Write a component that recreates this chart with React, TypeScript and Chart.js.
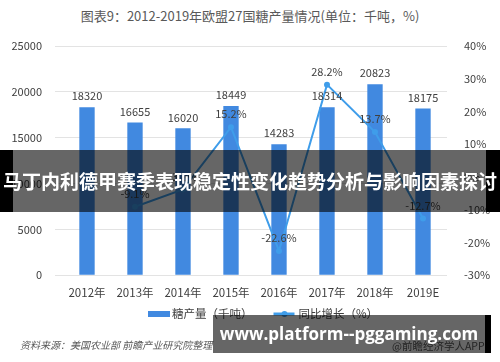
import React, { useEffect, useRef } from "react";
import { Chart, registerables } from "chart.js";

Chart.register(...registerables);

const categories = ["2012年", "2013年", "2014年", "2015年", "2016年", "2017年", "2018年", "2019E"];
const production = [18320, 16655, 16020, 18449, 14283, 18314, 20823, 18175];
const growth: (number | null)[] = [null, -9.1, -3.8, 15.2, -22.6, 28.2, 13.7, -12.7];
const leftTicks = [0, 5000, 10000, 15000, 20000, 25000];
const rightTicks = [-30, -20, -10, 0, 10, 20, 30, 40];

const FONT = "'Noto Sans CJK SC', 'Noto Sans', sans-serif";
const BAR_COLOR = "#4189e0";
const LINE_COLOR = "#3f9dea";

const labelsPlugin = {
  id: "valueLabels",
  afterDatasetsDraw(chart: any) {
    const ctx = chart.ctx;
    ctx.save();
    ctx.font = `11px ${FONT}`;
    ctx.fillStyle = "#404040";
    ctx.textAlign = "center";
    ctx.textBaseline = "middle";
    chart.data.datasets.forEach((ds: any, di: number) => {
      const meta = chart.getDatasetMeta(di);
      meta.data.forEach((el: any, i: number) => {
        const v = ds.data[i];
        if (v === null || v === undefined) return;
        if (ds.type === "bar") {
          ctx.fillText(String(v), el.x, el.y - 11);
        } else {
          ctx.fillText(v.toFixed(1) + "%", el.x, el.y - 13);
        }
      });
    });
    ctx.restore();
  },
};

const legendPlugin = {
  id: "customLegend",
  afterDraw(chart: any) {
    const ctx = chart.ctx;
    const y = 314;
    ctx.save();
    ctx.font = `11.5px ${FONT}`;
    ctx.textBaseline = "middle";
    let x = 148;
    chart.data.datasets.forEach((ds: any) => {
      if (ds.type === "bar") {
        ctx.fillStyle = ds.backgroundColor;
        ctx.fillRect(x, y - 3, 22, 6);
        x += 24;
      } else {
        ctx.strokeStyle = ds.borderColor;
        ctx.lineWidth = 3;
        ctx.beginPath();
        ctx.moveTo(x, y);
        ctx.lineTo(x + 21, y);
        ctx.stroke();
        ctx.fillStyle = ds.borderColor;
        ctx.beginPath();
        ctx.arc(x + 11, y, 3, 0, Math.PI * 2);
        ctx.fill();
        x += 25;
      }
      ctx.fillStyle = "#404040";
      ctx.textAlign = "left";
      ctx.fillText(ds.label, x, y);
      x += ctx.measureText(ds.label).width + 21;
    });
    ctx.restore();
  },
};

export default function App() {
  const ref = useRef<HTMLCanvasElement | null>(null);

  useEffect(() => {
    document.body.style.margin = "0";
    if (!ref.current) return;
    const chart = new Chart(ref.current, {
      type: "bar",
      data: {
        labels: categories,
        datasets: [
          {
            type: "bar",
            label: "糖产量（千吨）",
            data: production,
            yAxisID: "y",
            backgroundColor: BAR_COLOR,
            barPercentage: 0.32,
            categoryPercentage: 1,
            order: 2,
          } as any,
          {
            type: "line",
            label: "同比增长（%）",
            data: growth,
            yAxisID: "y1",
            borderColor: LINE_COLOR,
            backgroundColor: LINE_COLOR,
            borderWidth: 2,
            pointRadius: 3,
            pointBackgroundColor: LINE_COLOR,
            pointBorderWidth: 0,
            tension: 0,
            order: 1,
          } as any,
        ],
      },
      options: {
        animation: false,
        responsive: false,
        maintainAspectRatio: false,
        layout: { padding: { top: 46, bottom: 59, left: 0, right: 0 } },
        plugins: { legend: { display: false }, title: { display: false }, tooltip: { enabled: false } },
        scales: {
          x: {
            grid: { display: false },
            border: { display: false },
            ticks: { color: "#404040", font: { family: FONT, size: 11.5 }, padding: 3 },
          },
          y: {
            position: "left",
            min: leftTicks[0],
            max: leftTicks[leftTicks.length - 1],
            afterBuildTicks: (s: any) => { s.ticks = leftTicks.map((v) => ({ value: v })); },
            grid: { color: "#e3e3e3", lineWidth: 1 },
            border: { display: false },
            ticks: { color: "#404040", font: { family: FONT, size: 11 }, padding: 13, callback: (v: any) => String(v) },
            afterFit: (s: any) => { s.width = 63; },
          },
          y1: {
            position: "right",
            min: rightTicks[0],
            max: rightTicks[rightTicks.length - 1],
            afterBuildTicks: (s: any) => { s.ticks = rightTicks.map((v) => ({ value: v })); },
            grid: { display: false },
            border: { display: false },
            ticks: { color: "#404040", font: { family: FONT, size: 11 }, padding: 9, callback: (v: any) => v + "%" },
            afterFit: (s: any) => { s.width = 53; },
          },
        },
      },
      plugins: [labelsPlugin, legendPlugin],
    } as any);
    return () => chart.destroy();
  }, []);

  return (
    <div style={{ position: "relative", width: 500, height: 362, background: "#fff", overflow: "hidden", fontFamily: FONT }}>
      <div style={{ position: "absolute", top: 6, left: 0, width: 500, textAlign: "center", fontSize: 13, color: "#595959", lineHeight: "20px" }}>
        图表9：2012-2019年欧盟27国糖产量情况(单位：千吨，%)
      </div>
      <canvas ref={ref} width={500} height={362} style={{ position: "absolute", left: 0, top: 0, width: 500, height: 362 }} />
      <div style={{ position: "absolute", left: 20, top: 337, fontSize: 10, fontStyle: "italic", color: "#595959", lineHeight: "16px" }}>
        资料来源：美国农业部 前瞻产业研究院整理
      </div>
      <div style={{ position: "absolute", left: 392, top: 338, fontSize: 10.5, color: "#595959", lineHeight: "16px" }}>
        @前瞻经济学人APP
      </div>
      {/* middle banner */}
      <div style={{ position: "absolute", left: 0, top: 150, width: 500, height: 62, background: "rgba(0,0,0,0.6)" }} />
      <div style={{ position: "absolute", left: 0, top: 150, width: 13, height: 62, background: "#000" }} />
      <div style={{ position: "absolute", left: 486, top: 150, width: 14, height: 62, background: "#000" }} />
      <div style={{ position: "absolute", left: 0, top: 150, width: 500, height: 62, lineHeight: "62px", textAlign: "center", color: "#fff", fontWeight: 700, fontSize: 19, whiteSpace: "nowrap" }}>
        马丁内利德甲赛季表现稳定性变化趋势分析与影响因素探讨
      </div>
      {/* bottom banner */}
      <div style={{ position: "absolute", left: 213, top: 315, width: 278, height: 38, background: "rgba(0,0,0,0.6)" }} />
      <div style={{ position: "absolute", left: 485, top: 315, width: 6, height: 38, background: "#000" }} />
      <div style={{ position: "absolute", left: 213, top: 315, width: 272, height: 38, lineHeight: "38px", textAlign: "center", color: "#fff", fontWeight: 700, fontSize: 17, whiteSpace: "nowrap", fontFamily: "'Open Sans', 'DejaVu Sans', sans-serif" }}>
        www.platform--pggaming.com
      </div>
    </div>
  );
}
